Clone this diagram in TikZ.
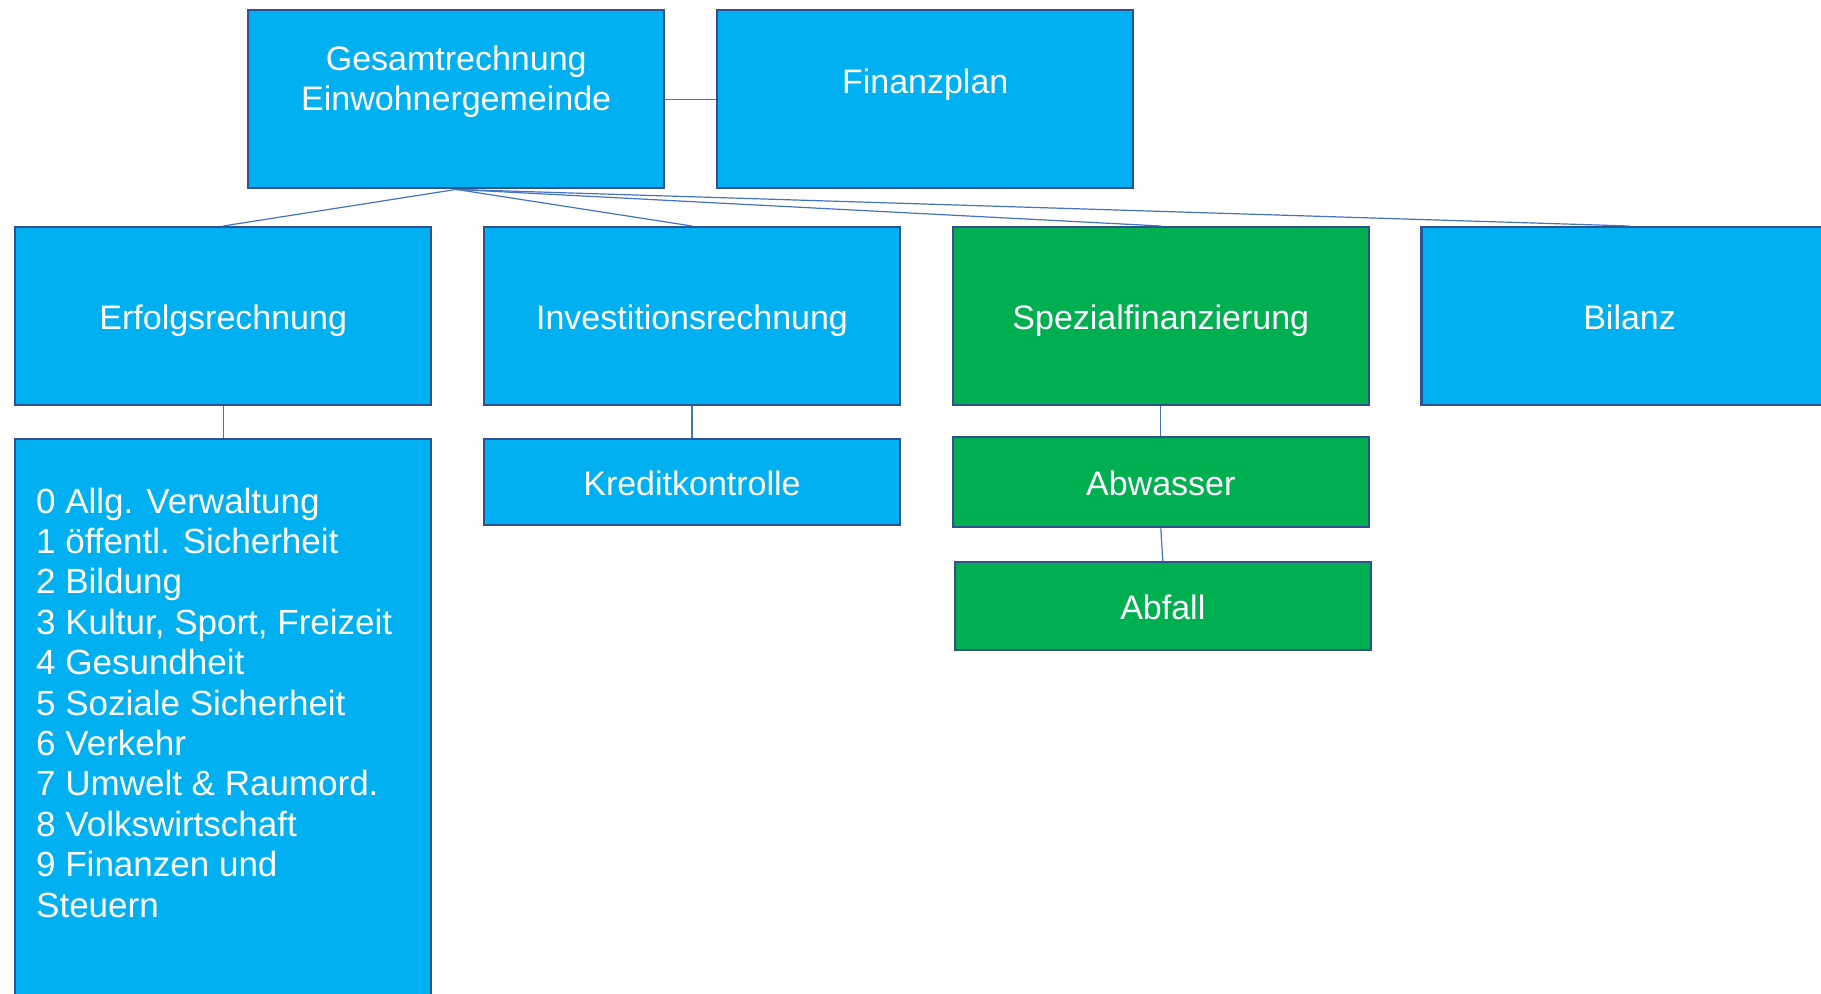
\documentclass[tikz,border=0pt]{standalone}
\usepackage{fontspec}
\setmainfont{Liberation Sans}
\usepackage{tikz}
\usetikzlibrary{positioning}
\definecolor{boxblue}{HTML}{00B0F0}
\definecolor{boxgreen}{HTML}{00B050}
\definecolor{edgeblue}{HTML}{2F528F}
\definecolor{lineblue}{HTML}{4472C4}
\tikzset{
	blk/.style={draw=edgeblue, line width=1.2pt, fill=boxblue, text=white, minimum width=208pt, minimum height=89pt, inner sep=0pt, align=center, font=\fontsize{17}{20}\selectfont},
	grn/.style={blk, fill=boxgreen},
	one/.style={text height=13.5pt, text depth=0pt},
	lnk/.style={draw=lineblue, line width=0.6pt}
}

\begin{document}
\begin{tikzpicture}
			\clip (0,0) rectangle (910.5pt,-496.5pt);
			\node[blk, anchor=north west, text depth=20.7pt] (gesamt) at (123.5pt,-4.5pt) {Gesamtrechnung\\Einwohnergemeinde};
			\node[blk, right=25.3pt of gesamt, text depth=18.1pt] (finanz) {Finanzplan};
			
			\node[blk, one, anchor=north west] (erfolg) at (7pt,-113pt) {Erfolgsrechnung};
			\node[blk, one, right=25.2pt of erfolg] (invest) {Investitionsrechnung};
			\node[grn, one, right=25.2pt of invest] (spezial) {Spezialfinanzierung};
			\node[blk, one, right=25.2pt of spezial] (bilanz) {Bilanz};
			
			\node[blk, below=15.8pt of erfolg, minimum height=0pt, inner xsep=10.5pt, inner ysep=24.3pt, align=left, font=\fontsize{17.5}{20.2}\selectfont] (liste) {\parbox[c][245pt][t]{187pt}{\raggedright 0 Allg. Verwaltung\\1 öffentl. Sicherheit\\2 Bildung\\3 Kultur, Sport, Freizeit\\4 Gesundheit\\5 Soziale Sicherheit\\6 Verkehr\\7 Umwelt \& Raumord.\\8 Volkswirtschaft\\9 Finanzen und\\Steuern}};
			\node[blk, one, below=15.8pt of invest, minimum height=43pt] (kredit) {Kreditkontrolle};
			\node[grn, one, below=14.8pt of spezial, minimum height=45pt] (abwasser) {Abwasser};
			\node[grn, one, below=16.2pt of abwasser, xshift=1pt, minimum height=44pt] (abfall) {Abfall};
			
			\draw[lnk] (gesamt) -- (finanz);
			\foreach \n in {erfolg,invest,spezial,bilanz}
				\draw[lnk] (gesamt.south) -- (\n.north);
			\draw[lnk] (erfolg) -- (liste);
			\draw[lnk] (invest) -- (kredit);
			\draw[lnk] (spezial) -- (abwasser);
			\draw[lnk] (abwasser.south) -- (abfall.north);
		\end{tikzpicture}
\end{document}
